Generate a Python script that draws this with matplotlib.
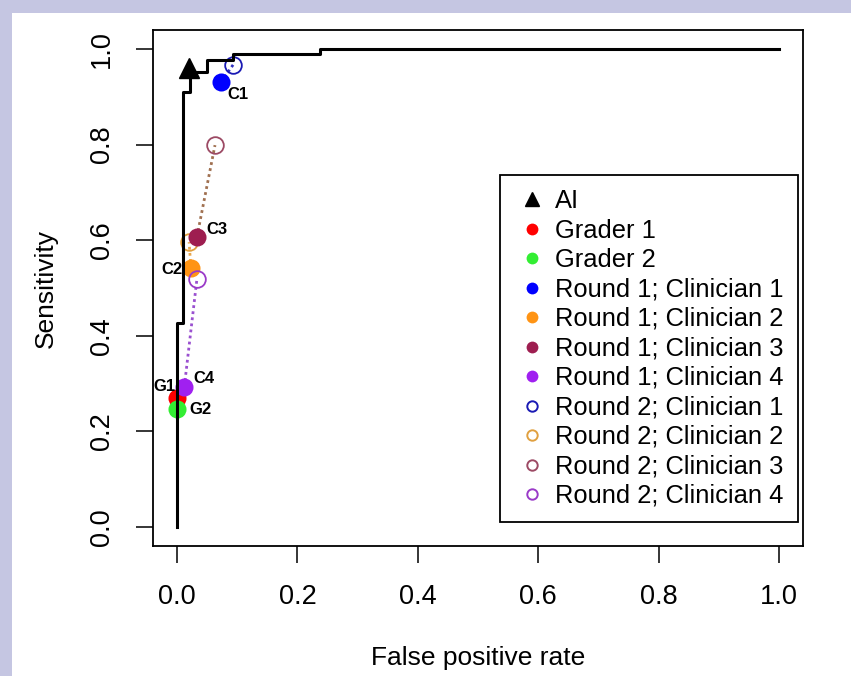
import numpy as np
import matplotlib.pyplot as plt
from matplotlib.patches import Rectangle
from matplotlib.lines import Line2D

plt.rcParams['font.family'] = ['Liberation Sans', 'DejaVu Sans']

# ROC curve of the AI (false positive rate, sensitivity)
roc_fpr = [0.0, 0.0, 0.01, 0.01, 0.022, 0.022, 0.05, 0.05, 0.093, 0.093, 0.238, 0.238, 1.0]
roc_tpr = [0.0, 0.427, 0.427, 0.91, 0.91, 0.952, 0.952, 0.977, 0.977, 0.99, 0.99, 1.0, 1.0]

ai_point = (0.02, 0.96)

grader_names = ["Grader 1", "Grader 2"]
grader_fpr = [0.0, 0.0]
grader_tpr = [0.27, 0.247]
grader_tags = ["G1", "G2"]
grader_colors = ["#FF0000", "#33EE33"]

clin_names = ["Clinician 1", "Clinician 2", "Clinician 3", "Clinician 4"]
r1_fpr = [0.073, 0.023, 0.033, 0.012]
r1_tpr = [0.931, 0.542, 0.607, 0.293]
r2_fpr = [0.093, 0.02, 0.063, 0.033]
r2_tpr = [0.967, 0.596, 0.799, 0.519]
clin_tags = ["C1", "C2", "C3", "C4"]
r1_colors = ["#0000FF", "#FF9414", "#9E1E50", "#A020F0"]
r2_colors = ["#1A1AB4", "#E0A040", "#9C4A64", "#9A3AC8"]
link_colors = ["#3030C0", "#E8A850", "#A07050", "#9A50D0"]

fig = plt.figure(figsize=(8.51, 6.76), dpi=100)
fig.patch.set_facecolor("#C5C6E2")
bg = fig.add_axes([12/851, 0, 1 - 12/851, (676-13)/676], zorder=-1)
bg.set_facecolor("white")
bg.axis("off")
bg.add_patch(Rectangle((0, 0), 1, 1, transform=bg.transAxes, facecolor="white", edgecolor="none"))

ax = fig.add_axes([153/851, (676-546)/676, 650/851, 516/676])
ax.set_facecolor("white")

# links between rounds
for i in range(4):
    ax.plot([r1_fpr[i], r2_fpr[i]], [r1_tpr[i], r2_tpr[i]], linestyle=(0, (1, 1.2)),
            color=link_colors[i], lw=2, zorder=2)

for i in range(2):
    ax.plot(grader_fpr[i], grader_tpr[i], "o", ms=13, color=grader_colors[i], mec="none", zorder=3)
for i in range(4):
    ax.plot(r1_fpr[i], r1_tpr[i], "o", ms=13, color=r1_colors[i], mec="none", zorder=3)
    ax.plot(r2_fpr[i], r2_tpr[i], "o", ms=12, mfc="none", mec=r2_colors[i], mew=1.3, zorder=3)

ax.plot(roc_fpr, roc_tpr, color="black", lw=2.2, zorder=4)
ax.plot(ai_point[0], ai_point[1], "^", ms=15, color="black", zorder=5)

# point tags
tag_offsets = {"C1": (6, -12, "left"), "C2": (-8, -2, "right"), "C3": (9, 7, "left"),
               "C4": (9, 8, "left"), "G1": (-2, 11, "right"), "G2": (12, -1, "left")}
for tag, x, y in zip(clin_tags + grader_tags, r1_fpr + grader_fpr, r1_tpr + grader_tpr):
    dx, dy, ha = tag_offsets[tag]
    ax.annotate(tag, (x, y), xytext=(dx, dy), textcoords="offset pixels", ha=ha, va="center",
                fontsize=12, fontweight="bold", zorder=6)

ax.set_xlim(-0.04, 1.04)
ax.set_ylim(-0.04, 1.04)
ticks = [0.0, 0.2, 0.4, 0.6, 0.8, 1.0]
ax.set_xticks(ticks)
ax.set_yticks(ticks)
ax.set_xticklabels([f"{t:.1f}" for t in ticks])
ax.set_yticklabels([f"{t:.1f}" for t in ticks], rotation=90, va="center")
ax.tick_params(length=12.5, width=1.1, labelsize=19.5, pad=15)
for s in ax.spines.values():
    s.set_linewidth(1.3)
ax.set_xlabel("False positive rate", fontsize=19, labelpad=26)
ax.set_ylabel("Sensitivity", fontsize=19, labelpad=22)

handles = [Line2D([], [], ls="none", marker="^", ms=10, color="black")]
labels = ["AI"]
for i in range(2):
    handles.append(Line2D([], [], ls="none", marker="o", ms=8.5, color=grader_colors[i], mec="none"))
    labels.append(grader_names[i])
for i in range(4):
    handles.append(Line2D([], [], ls="none", marker="o", ms=8.5, color=r1_colors[i], mec="none"))
    labels.append("Round 1; " + clin_names[i])
for i in range(4):
    handles.append(Line2D([], [], ls="none", marker="o", ms=7.5, mfc="none", mec=r2_colors[i], mew=1.4))
    labels.append("Round 2; " + clin_names[i])

leg = ax.legend(handles, labels, loc="lower right", bbox_to_anchor=(0.992, 0.0465),
                fontsize=18.4, labelspacing=0.215, handlelength=1.35, handletextpad=0.25,
                borderpad=0.55, borderaxespad=0, fancybox=False, framealpha=1,
                edgecolor="black")
leg.get_frame().set_linewidth(1.3)

fig.savefig("out.png", dpi=100)
